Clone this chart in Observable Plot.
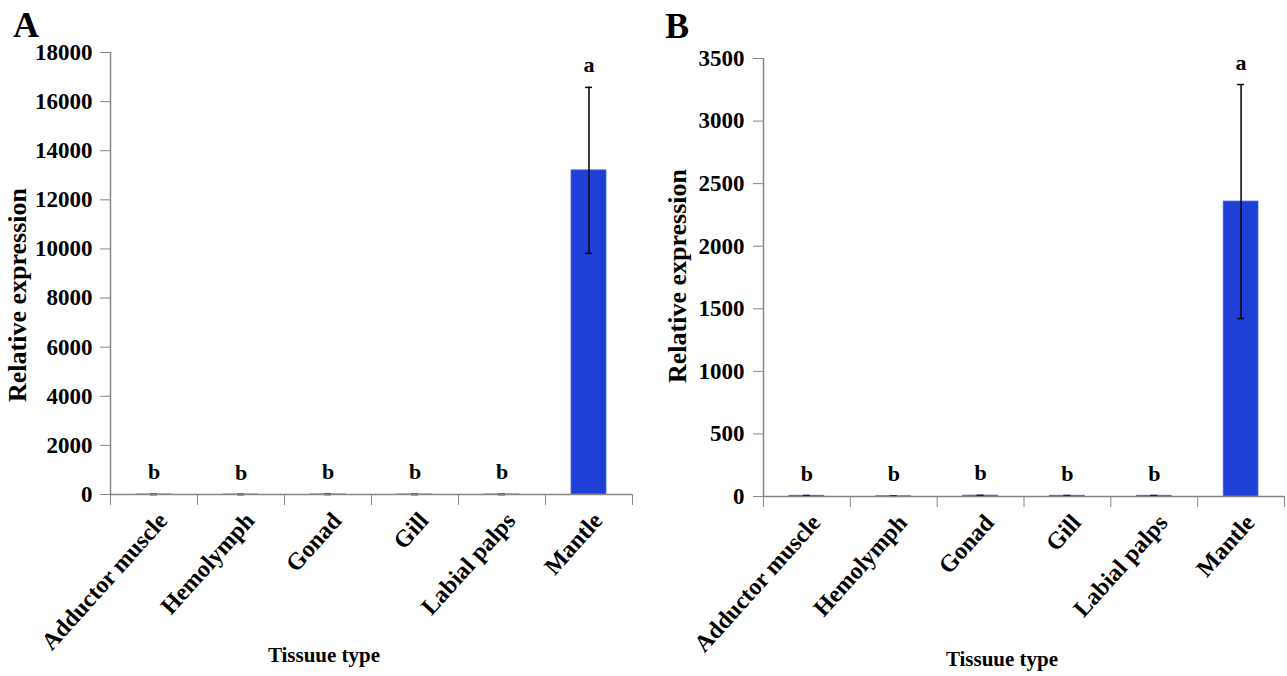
<!DOCTYPE html>
<html>
<head>
<meta charset="utf-8">
<script src="https://cdn.jsdelivr.net/npm/d3@7"></script>
<script src="https://cdn.jsdelivr.net/npm/@observablehq/plot@0.6"></script>
<style>
  html, body { margin: 0; padding: 0; background: white; }
  #wrap { position: relative; width: 1287px; height: 676px; overflow: hidden; font-family: "Liberation Serif", serif; font-weight: bold; color: black; }
  .panel { position: absolute; top: 0; }
  .abs { position: absolute; white-space: nowrap; line-height: 1; }
  .ylab { transform: translate(-50%, -50%) rotate(-90deg); font-size: 26px; }
  .xlab { transform: translate(-50%, -50%); font-size: 21px; }
  .plab { font-size: 36px; }
</style>
</head>
<body>
<div id="wrap"></div>
<script>
// ---- data ----
const tissues = ["Adductor muscle", "Hemolymph", "Gonad", "Gill", "Labial palps", "Mantle"];
const letters = ["b", "b", "b", "b", "b", "a"];
const meanA = [2, 1, 3, 2, 2, 13200];
const sdA = [1, 0.5, 1, 1, 1, 3380];
const meanB = [6, 2, 7, 6, 6, 2357];
const sdB = [2, 1, 2, 2, 2, 935];
const yTicksA = [0, 2000, 4000, 6000, 8000, 10000, 12000, 14000, 16000, 18000];
const yTicksB = [0, 500, 1000, 1500, 2000, 2500, 3000, 3500];
const yTitle = "Relative expression";
const xTitle = "Tissuue type";

const gray = "#868686";
const barColor = "#1e40d6";

function panel({mean, sd, yTicks, width, marginLeft, marginRight, marginTop, marginBottom, tickPadding}) {
  const data = tissues.map((t, i) => ({i, tissue: t, mean: mean[i], sd: sd[i], letter: letters[i]}));
  return Plot.plot({
    width, height: 676,
    marginLeft, marginRight, marginTop, marginBottom,
    style: {fontFamily: "Liberation Serif", fontWeight: "bold", fontSize: "23px", background: "white", overflow: "visible", color: "black"},
    x: {type: "linear", domain: [0, tissues.length]},
    y: {domain: [0, d3.max(yTicks)]},
    marks: [
      Plot.rectY(data, {x1: d => d.i, x2: d => d.i + 1, y: "mean", insetLeft: 26, insetRight: 26, fill: barColor, stroke: "#4a66ee", strokeWidth: 0.8}),
      Plot.ruleX(data, {x: d => d.i + 0.5, y1: d => d.mean - d.sd, y2: d => d.mean + d.sd, stroke: "black", strokeWidth: 1.5}),
      Plot.ruleY(data, {y: d => d.mean + d.sd, x1: d => d.i + 0.46, x2: d => d.i + 0.54, stroke: "black", strokeWidth: 1.5}),
      Plot.ruleY(data, {y: d => d.mean - d.sd, x1: d => d.i + 0.46, x2: d => d.i + 0.54, stroke: "black", strokeWidth: 1.5}),
      Plot.text(data, {x: d => d.i + 0.5, y: d => d.mean + d.sd, text: "letter", dy: -22, fontSize: 22, lineAnchor: "middle", fill: "black"}),
      Plot.ruleX([0], {stroke: gray, strokeWidth: 1.5}),
      Plot.ruleY([0], {stroke: gray, strokeWidth: 1.5}),
      Plot.axisY({ticks: yTicks, tickSize: 10, tickPadding, stroke: gray, fill: "black", tickFormat: d3.format("d"), label: null, fontSize: 23}),
      Plot.axisX({ticks: d3.range(tissues.length + 1), tickSize: 11, tickFormat: () => "", stroke: gray, label: null}),
      Plot.axisX({ticks: tissues.map((t, i) => i + 0.5), tickSize: 0, tickPadding: 22, tickRotate: -48, dx: 9, tickFormat: v => tissues[Math.floor(v)], fill: "black", label: null, fontSize: 24})
    ]
  });
}

const wrap = document.getElementById("wrap");

const pA = panel({mean: meanA, sd: sdA, yTicks: yTicksA, width: 650, marginLeft: 110, marginRight: 18, marginTop: 52, marginBottom: 182, tickPadding: 8});
pA.classList.add("panel"); pA.style.left = "0px";
wrap.appendChild(pA);

const pB = panel({mean: meanB, sd: sdB, yTicks: yTicksB, width: 637, marginLeft: 113, marginRight: 3, marginTop: 58, marginBottom: 180, tickPadding: 9});
pB.classList.add("panel"); pB.style.left = "650px";
wrap.appendChild(pB);

function addText(cls, txt, x, y) {
  const d = document.createElement("div");
  d.className = "abs " + cls;
  d.textContent = txt;
  d.style.left = x + "px"; d.style.top = y + "px";
  wrap.appendChild(d);
}
addText("plab", "A", 13, 7);
addText("plab", "B", 665, 8);
addText("ylab", yTitle, 18, 295);
addText("ylab", yTitle, 678, 276);
addText("xlab", xTitle, 324, 655);
addText("xlab", xTitle, 1002, 659);
</script>
</body>
</html>
